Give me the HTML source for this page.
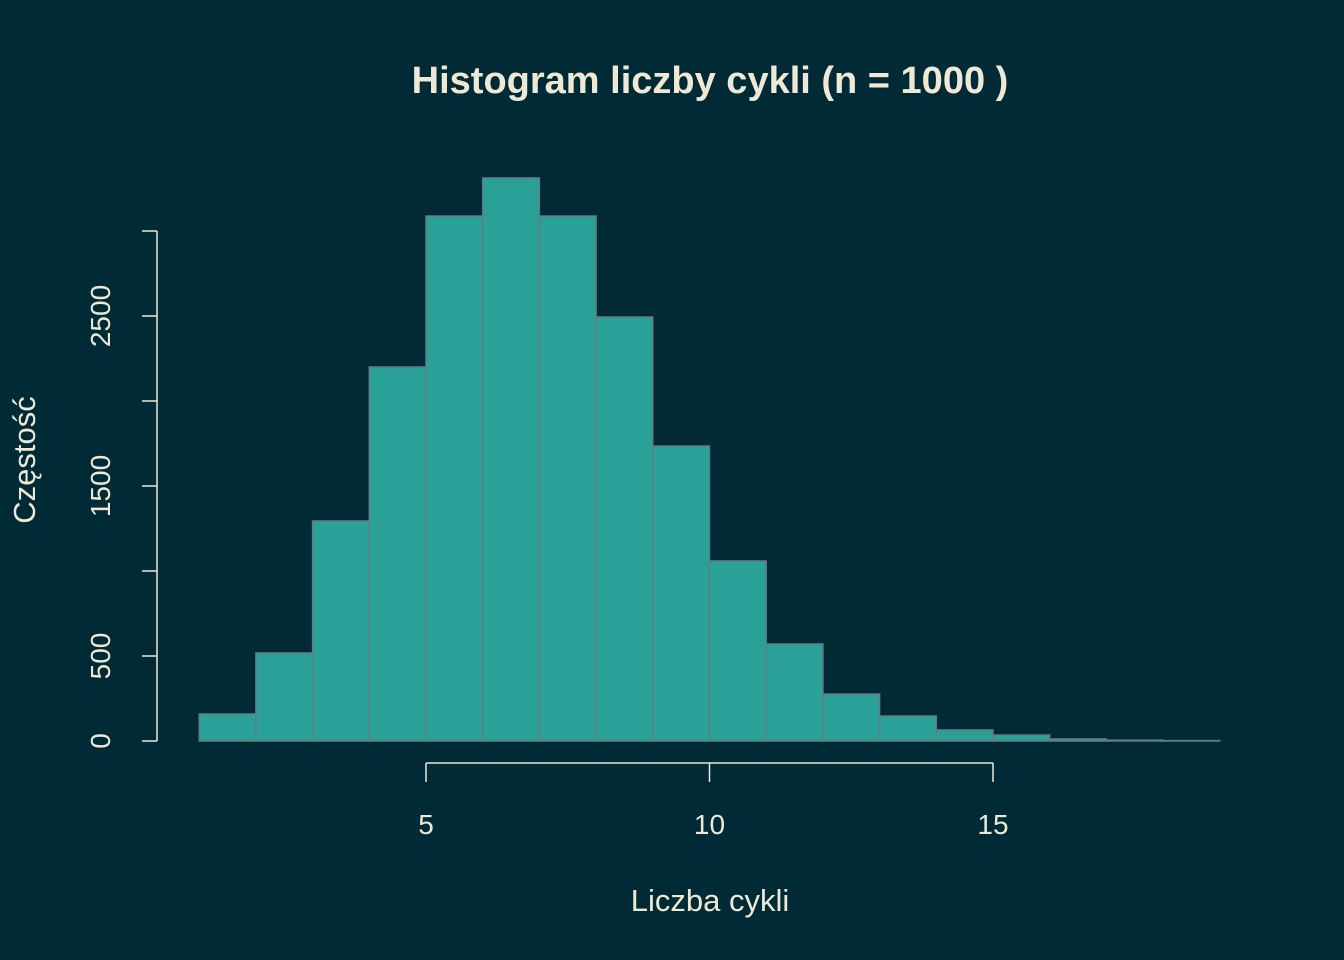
<!DOCTYPE html>
<html><head><meta charset="utf-8"><style>
html,body{margin:0;padding:0;background:#002b36;}
svg{display:block;font-family:"Liberation Sans",sans-serif;}
</style></head><body>
<svg width="1344" height="960">
<rect width="1344" height="960" fill="#002b36"/>
<text x="710" y="93" text-anchor="middle" font-size="38" font-weight="bold" fill="#eee8d5">Histogram liczby cykli (n = 1000 )</text>
<g id="bars"></g>
<g id="axes" stroke="#eee8d5" stroke-width="1.5" fill="none"></g>
<g id="labels" fill="#eee8d5" font-size="28"></g>
<text x="710" y="911" text-anchor="middle" font-size="31" fill="#eee8d5">Liczba cykli</text>
<text transform="translate(35,460) rotate(-90)" text-anchor="middle" font-size="31" fill="#eee8d5">Częstość</text>
</svg>
<script>
const binStarts=[1,2,3,4,5,6,7,8,9,10,11,12,13,14,15,16,17,18];
const counts=[159,518,1294,2200,3088,3312,3088,2494,1735,1059,571,276,147,65,35,12,5,2];
const xTicks=[5,10,15];
const yTicks=[0,500,1000,1500,2000,2500,3000];
const yTickLabels=["0","500","","1500","","2500",""];
const binWidth=1;
const NS="http://www.w3.org/2000/svg";
function sx(v){return 426+(v-5)*56.7;}
function sy(v){return 741-v*0.17;}
function mk(tag,attrs,parent){const e=document.createElementNS(NS,tag);for(const k in attrs)e.setAttribute(k,attrs[k]);parent.appendChild(e);return e;}
const bars=document.getElementById('bars'),axes=document.getElementById('axes'),labels=document.getElementById('labels');
binStarts.forEach((b,i)=>{
  const x0=sx(b),x1=sx(b+binWidth),y=sy(counts[i]);
  const r=mk('rect',{x:x0,y:y,width:x1-x0,height:741-y,fill:'#2aa198',stroke:'#657b83','stroke-width':1.5},bars);
  
  
});
const yl=mk('line',{x1:157,x2:157,y1:sy(yTicks[yTicks.length-1]),y2:sy(0)},axes);


yTicks.forEach((t,i)=>{
  const tk=mk('line',{x1:142,x2:157,y1:sy(t),y2:sy(t)},axes);
  
  
  if(yTickLabels[i]){
    const tx=mk('text',{transform:`translate(110,${sy(t)}) rotate(-90)`,'text-anchor':'middle'},labels);
    tx.textContent=yTickLabels[i];
    
    
  }
});
const xl=mk('line',{x1:sx(xTicks[0]),x2:sx(xTicks[xTicks.length-1]),y1:763,y2:763},axes);


xTicks.forEach(t=>{
  const tk=mk('line',{x1:sx(t),x2:sx(t),y1:763,y2:782},axes);
  
  
  const tx=mk('text',{x:sx(t),y:834,'text-anchor':'middle'},labels);
  tx.textContent=String(t);
  
  
});
</script>
</body></html>
